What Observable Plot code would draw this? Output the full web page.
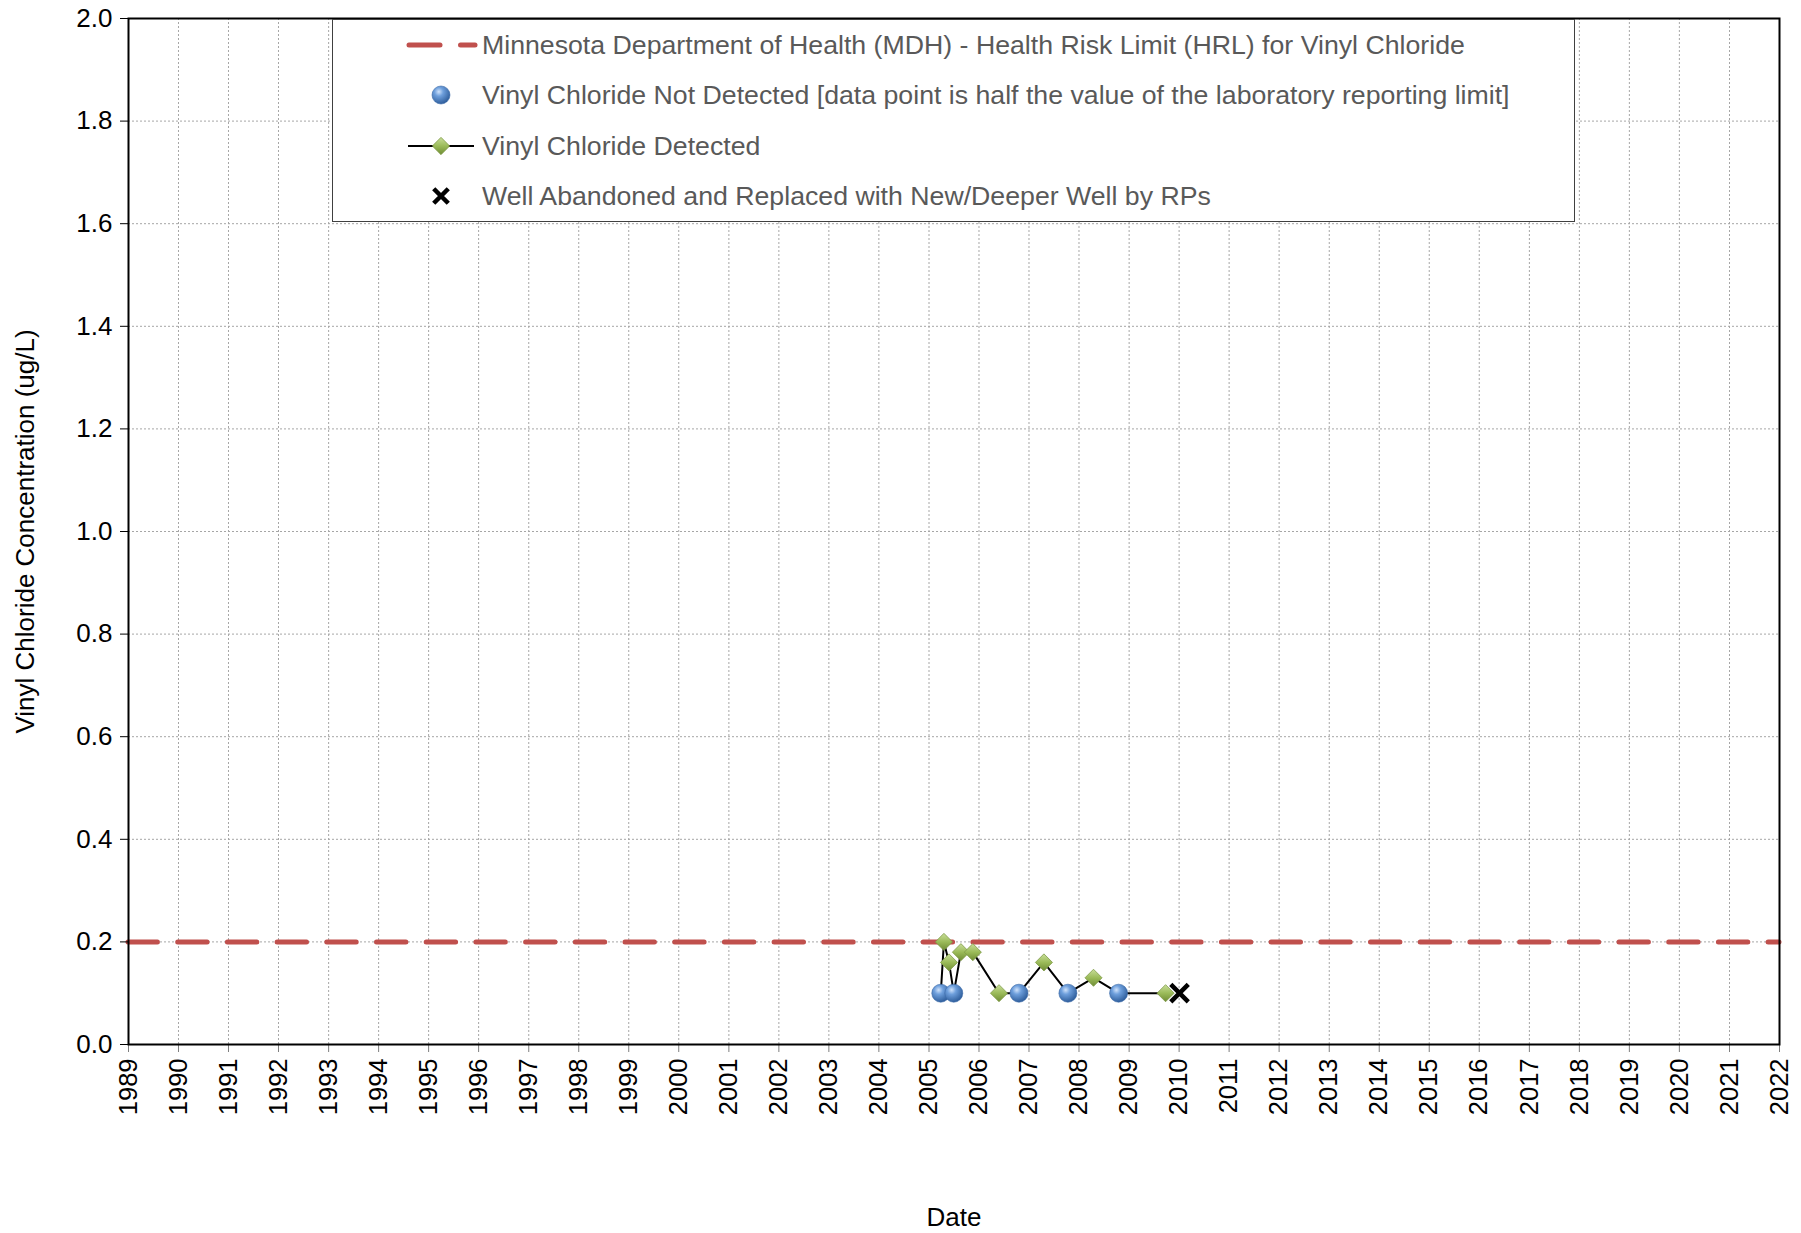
<!DOCTYPE html>
<html>
<head>
<meta charset="utf-8">
<script src="https://cdn.jsdelivr.net/npm/d3@7"></script>
<script src="https://cdn.jsdelivr.net/npm/@observablehq/plot@0.6"></script>
<style>
  body { margin: 0; background: #fff; }
  #wrap { position: relative; width: 1801px; height: 1233px; font-family: "Liberation Sans", Arial, sans-serif; }
  #legend { position: absolute; left: 332px; top: 19px; }
</style>
</head>
<body>
<div id="wrap"></div>
<script>
// ---- data ----
const notDetectedDates = ["2005-03-28", "2005-07-01", "2006-10-20", "2007-10-12", "2008-10-16"];
const notDetectedValues = [0.1, 0.1, 0.1, 0.1, 0.1];
const detectedDates = ["2005-04-20", "2005-05-27", "2005-08-22", "2005-11-17", "2006-05-27", "2007-04-20", "2008-04-16", "2009-09-24"];
const detectedValues = [0.2, 0.16, 0.18, 0.18, 0.1, 0.16, 0.13, 0.1];
const abandonedDates = ["2010-01-04"];
const abandonedValues = [0.1];
const hrlValue = 0.2;
const yearTicks = d3.range(1989, 2023);
const yTicks = [0.0, 0.2, 0.4, 0.6, 0.8, 1.0, 1.2, 1.4, 1.6, 1.8, 2.0];
const legendLabels = [
  "Minnesota Department of Health (MDH) - Health Risk Limit (HRL) for Vinyl Chloride",
  "Vinyl Chloride Not Detected [data point is half the value of the laboratory reporting limit]",
  "Vinyl Chloride Detected",
  "Well Abandoned and Replaced with New/Deeper Well by RPs"
];

const parse = d3.utcParse("%Y-%m-%d");
const nd = notDetectedDates.map((d, i) => ({date: parse(d), value: notDetectedValues[i]}));
const det = detectedDates.map((d, i) => ({date: parse(d), value: detectedValues[i]}));
const ab = abandonedDates.map((d, i) => ({date: parse(d), value: abandonedValues[i]}));
const lineData = [...nd, ...det].sort((a, b) => a.date - b.date);
const yearDates = yearTicks.map(y => new Date(Date.UTC(y, 0, 1)));

const font = "Liberation Sans, Arial, sans-serif";

const chart = Plot.plot({
  width: 1801,
  height: 1233,
  marginLeft: 128,
  marginRight: 22,
  marginTop: 18,
  marginBottom: 189,
  style: {fontFamily: font, fontSize: "25px", color: "#000", background: "#fff"},
  x: {type: "utc", domain: [yearDates[0], yearDates[yearDates.length - 1]]},
  y: {domain: [0, 2]},
  marks: [
    Plot.gridX(yearDates, {stroke: "#a6a6a6", strokeOpacity: 1, strokeWidth: 1, strokeDasharray: "2,2"}),
    Plot.gridY(yTicks, {stroke: "#a6a6a6", strokeOpacity: 1, strokeWidth: 1, strokeDasharray: "2,2"}),
    Plot.ruleY([hrlValue], {stroke: "#c0504d", strokeWidth: 5, strokeDasharray: "29.4,20.3", strokeLinecap: "round"}),
    Plot.line(lineData, {x: "date", y: "value", stroke: "#000", strokeWidth: 2}),
    Plot.dot(nd, {x: "date", y: "value", r: 9, fill: "url(#blueSphere)", stroke: "#3a6aa8", strokeWidth: 0.6}),
    Plot.dot(det, {x: "date", y: "value", r: 7.7, symbol: "diamond2", fill: "url(#greenDiamond)", stroke: "#7f9a48", strokeWidth: 0.8}),
    Plot.dot(ab, {x: "date", y: "value", r: 8, symbol: "times", stroke: "#000", strokeWidth: 4.5}),
    Plot.axisX({ticks: yearDates, tickFormat: d3.utcFormat("%Y"), tickRotate: -90, tickSize: 8, tickPadding: 6,
      stroke: "#7f7f7f", fill: "#000", fontSize: 25.5, label: null}),
    Plot.axisY({ticks: yTicks, tickFormat: d3.format(".1f"), tickSize: 8, tickPadding: 8, fill: "#000", fontSize: 26, label: null}),
    Plot.frame({stroke: "#000", strokeWidth: 2}),
    Plot.text(["Date"], {frameAnchor: "bottom", dy: 181, fontSize: 26, fill: "#000"}),
    Plot.text(["Vinyl Chloride Concentration (ug/L)"], {frameAnchor: "left", textAnchor: "middle", dx: -103, rotate: -90, fontSize: 26, fill: "#000"})
  ]
});

// gradients
const svg = d3.select(chart);
const defs = svg.insert("defs", ":first-child");
function addGradients(d, suffix) {
  const bg = d.append("radialGradient").attr("id", "blueSphere" + suffix).attr("cx", "38%").attr("cy", "32%").attr("r", "70%");
  bg.append("stop").attr("offset", "0%").attr("stop-color", "#cfe2fb");
  bg.append("stop").attr("offset", "35%").attr("stop-color", "#6e9fdc");
  bg.append("stop").attr("offset", "100%").attr("stop-color", "#2d5c9a");
  const gg = d.append("linearGradient").attr("id", "greenDiamond" + suffix).attr("x1", "0%").attr("y1", "0%").attr("x2", "0%").attr("y2", "100%");
  gg.append("stop").attr("offset", "0%").attr("stop-color", "#c9de9a");
  gg.append("stop").attr("offset", "50%").attr("stop-color", "#9bbb59");
  gg.append("stop").attr("offset", "100%").attr("stop-color", "#6f8c34");
}
addGradients(defs, "");

document.getElementById("wrap").appendChild(chart);

// legend
const lg = d3.select("#wrap").append("svg").attr("id", "legend").attr("width", 1243).attr("height", 204);
addGradients(lg.append("defs"), "2");
lg.append("rect").attr("x", 0.5).attr("y", 0.5).attr("width", 1242).attr("height", 202)
  .attr("fill", "#fff").attr("stroke", "#404040").attr("stroke-width", 1);
const rowY = [26, 76, 127, 177];
const symX = 109, txtX = 150;
// row 0: dashed red
lg.append("line").attr("x1", 77).attr("x2", 108).attr("y1", rowY[0]).attr("y2", rowY[0])
  .attr("stroke", "#c0504d").attr("stroke-width", 5).attr("stroke-linecap", "round");
lg.append("line").attr("x1", 128.5).attr("x2", 143).attr("y1", rowY[0]).attr("y2", rowY[0])
  .attr("stroke", "#c0504d").attr("stroke-width", 5).attr("stroke-linecap", "round");
// row 1: blue sphere
lg.append("circle").attr("cx", symX).attr("cy", rowY[1]).attr("r", 9).attr("fill", "url(#blueSphere2)").attr("stroke", "#3a6aa8").attr("stroke-width", 0.6);
// row 2: line + diamond
lg.append("line").attr("x1", 76).attr("x2", 142).attr("y1", rowY[2]).attr("y2", rowY[2]).attr("stroke", "#000").attr("stroke-width", 2);
lg.append("path").attr("d", d3.symbol(d3.symbolDiamond2, 190)()).attr("transform", `translate(${symX},${rowY[2]})`)
  .attr("fill", "url(#greenDiamond2)").attr("stroke", "#7f9a48").attr("stroke-width", 0.8);
// row 3: cross
lg.append("path").attr("d", d3.symbol(d3.symbolTimes, 140)()).attr("transform", `translate(${symX},${rowY[3]})`)
  .attr("fill", "none").attr("stroke", "#000").attr("stroke-width", 4.5);
lg.selectAll("text.lab").data(legendLabels).join("text").attr("class", "lab")
  .attr("x", txtX).attr("y", (d, i) => rowY[i]).attr("dy", "0.35em")
  .attr("font-family", font).attr("font-size", 26.7).attr("fill", "#595959").text(d => d);
</script>
</body>
</html>
